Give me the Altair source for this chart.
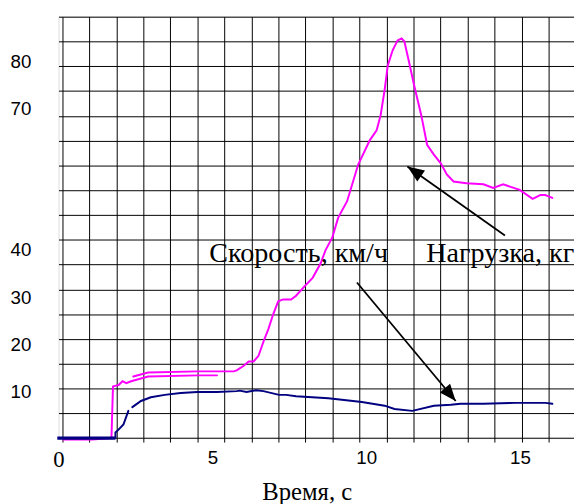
import altair as alt
import pandas as pd

# ---- data (time in s, value on the left scale) ----
# Нагрузка (load, kg) – magenta, first piece (start, jump, lower plateau)
load_a_t = [0.15, 1.08, 1.72, 1.77, 1.95, 2.08, 2.20, 2.36, 2.91, 4.51, 5.15]
load_a_v = [-0.3, -0.3, 0.0, 11.0, 11.3, 12.1, 11.7, 12.1, 13.1, 13.35, 13.35]
# second piece (upper plateau, rise, peak and tail)
load_b_t = [2.43, 2.91, 4.51, 5.70, 5.79, 6.02, 6.18, 6.34, 6.50, 6.66, 6.82,
            6.98, 7.14, 7.30, 7.56, 7.72, 8.04, 8.26, 8.52, 8.68, 8.90, 9.09,
            9.38, 9.74, 10.12, 10.34, 10.47, 10.60, 10.70, 10.86, 11.02, 11.15,
            11.24, 11.40, 11.56, 11.79, 11.98, 12.20, 12.43, 12.62, 12.84,
            13.26, 13.81, 14.13, 14.45, 14.99, 15.41, 15.66, 15.82, 16.05]
load_b_v = [13.1, 13.95, 14.2, 14.2, 14.4, 15.4, 16.3, 16.3, 17.5, 20.5, 23.2,
            26.4, 29.1, 29.5, 29.5, 30.3, 32.6, 34.1, 37.2, 40.0, 42.7, 46.9,
            50.4, 58.2, 63.4, 65.5, 68.7, 74.1, 79.2, 82.5, 84.6, 85.0,
            84.4, 79.8, 75.0, 68.7, 62.4, 60.3, 58.4, 56.1, 54.6,
            54.2, 54.0, 53.2, 54.0, 52.8, 50.9, 51.7, 51.7, 51.1]

# Скорость (speed, km/h) – navy
speed_flat_t = [-0.04, 1.85]
speed_flat_v = [0.0, 0.0]
speed_a_t = [1.85, 1.85, 1.95, 2.11, 2.27]
speed_a_v = [0.1, 1.2, 1.8, 2.9, 5.8]
speed_b_t = [2.40, 2.68, 3.00, 3.45, 3.97, 4.51, 5.15, 5.79, 5.89, 6.11, 6.43,
             6.66, 7.17, 7.40, 7.72, 8.77, 9.86, 10.60, 10.92, 11.50, 12.20,
             12.75, 13.07, 13.81, 14.86, 15.83, 16.05]
speed_b_v = [6.6, 7.9, 8.7, 9.2, 9.6, 9.8, 9.8, 10.0, 10.1, 9.8, 10.2,
             10.0, 9.2, 9.2, 8.9, 8.5, 7.7, 6.9, 6.2, 5.8, 6.9,
             7.1, 7.3, 7.3, 7.5, 7.5, 7.3]

x_ticks = [0, 5, 10, 15]
y_ticks = [10, 20, 30, 40, 70, 80]

# annotations
label_text = ["Скорость, км/ч", "Нагрузка, кг"]
label_t = [4.90, 11.95]
label_v = [37.45, 37.45]
arrow_t = [14.51, 9.70]
arrow_v = [43.1, 33.1]
arrow_t2 = [11.34, 12.91]
arrow_v2 = [57.8, 7.9]
arrow_angle = [305, 140]

# grid: 19 vertical and 18 horizontal lines
grid_x = list(range(19))
grid_y = list(range(18))

# ---- build tables ----
rows = []
def add(ts, vs, series, piece):
    for i, (t, v) in enumerate(zip(ts, vs)):
        rows.append({"t": t, "v": v, "series": series, "piece": piece, "i": i})

add(load_a_t, load_a_v, "Нагрузка", "la")
add(load_b_t, load_b_v, "Нагрузка", "lb")
add(speed_a_t, speed_a_v, "Скорость", "sa")
add(speed_b_t, speed_b_v, "Скорость", "sb")
lines_df = pd.DataFrame(rows)
flat_df = pd.DataFrame({"t": speed_flat_t, "v": speed_flat_v})
labels_df = pd.DataFrame({"t": label_t, "v": label_v, "text": label_text})
arrows_df = pd.DataFrame({"t": arrow_t, "v": arrow_v, "t2": arrow_t2,
                          "v2": arrow_v2, "angle": arrow_angle})

T_DOMAIN = [0, 16.755]
V_DOMAIN = [0, 89.65]
GX_DOMAIN = [-0.137, 18.94]
GY_DOMAIN = [0, 17]

xs = alt.Scale(domain=T_DOMAIN, nice=False, zero=False)
ys = alt.Scale(domain=V_DOMAIN, nice=False, zero=False)

# grid layer (own scales)
grid = alt.Chart(pd.DataFrame({"gx": [GX_DOMAIN[0], GX_DOMAIN[1]],
                               "gy": [GY_DOMAIN[0], GY_DOMAIN[1]]})).mark_point(
    opacity=0).encode(
    x=alt.X("gx:Q", scale=alt.Scale(domain=GX_DOMAIN, nice=False, zero=False),
            axis=alt.Axis(orient="bottom", values=grid_x, grid=True,
                          gridColor="black", gridOpacity=1, gridWidth=1,
                          labels=False, ticks=True, tickSize=4,
                          tickColor="black", domain=False, title=None)),
    y=alt.Y("gy:Q", scale=alt.Scale(domain=GY_DOMAIN, nice=False, zero=False),
            axis=alt.Axis(orient="left", values=grid_y, grid=True,
                          gridColor="black", gridOpacity=1, gridWidth=1,
                          labels=False, ticks=False, domain=False, title=None)),
)

x_axis = alt.Axis(orient="bottom", values=x_ticks, grid=False, ticks=False,
                  tickSize=0, domain=False, labelPadding=11,
                  labelFont={"condition": {"test": "datum.value === 0",
                                           "value": "Liberation Serif"},
                             "value": "Liberation Sans"},
                  labelFontSize={"condition": {"test": "datum.value === 0",
                                               "value": 23},
                                 "value": 19},
                  labelColor="black", labelFlush=False,
                  title="Время, с", titleFont="Liberation Serif",
                  titleFontSize=25, titleFontWeight="normal",
                  titleColor="black", titleX=251.75, titleY=62.0,
                  titleBaseline="alphabetic", titleAlign="center")
y_axis = alt.Axis(orient="left", values=y_ticks, grid=False, ticks=False,
                  tickSize=0, domain=False, labelPadding=28,
                  labelFont="Liberation Sans", labelFontSize=19,
                  labelColor="black", labelFlush=False, title=None)

base = alt.Chart(lines_df)
lines = base.mark_line(strokeWidth=2, strokeCap="round").encode(
    x=alt.X("t:Q", scale=xs, axis=x_axis),
    y=alt.Y("v:Q", scale=ys, axis=y_axis),
    color=alt.Color("series:N", scale=alt.Scale(domain=["Нагрузка", "Скорость"],
                                                range=["#FF00FF", "#000080"]),
                    legend=None),
    detail="piece:N",
    order="i:Q",
)
flat = alt.Chart(flat_df).mark_line(strokeWidth=3.2, color="#000080",
                                    clip=False).encode(
    x=alt.X("t:Q", scale=xs), y=alt.Y("v:Q", scale=ys))

arrow_lines = alt.Chart(arrows_df).mark_rule(color="black", strokeWidth=1.8).encode(
    x=alt.X("t:Q", scale=xs), y=alt.Y("v:Q", scale=ys), x2="t2:Q", y2="v2:Q")
arrow_heads = alt.Chart(arrows_df).mark_point(
    shape="M0,0 L-0.8,2 L0.8,2 Z", filled=True, color="black", opacity=1,
    size=289, strokeWidth=0).encode(
    x=alt.X("t2:Q", scale=xs), y=alt.Y("v2:Q", scale=ys),
    angle=alt.Angle("angle:Q", scale=None))

texts = alt.Chart(labels_df).mark_text(
    font="Liberation Serif", fontSize=28.5, align="left", baseline="alphabetic",
    color="black").encode(
    x=alt.X("t:Q", scale=xs), y=alt.Y("v:Q", scale=ys), text="text:N")

data_layer = alt.layer(lines, flat, arrow_lines, arrow_heads, texts)

chart = alt.layer(grid, data_layer).resolve_scale(
    x="independent", y="independent").properties(
    width=522.75, height=427.4,
    autosize=alt.AutoSizeParams(type="none"),
    padding={"left": 51.25, "top": 5.3, "right": 0, "bottom": 63.3},
).configure_view(stroke=None).configure(background="white")

chart.save("out.html", embed_options={"renderer": "svg", "actions": False})
